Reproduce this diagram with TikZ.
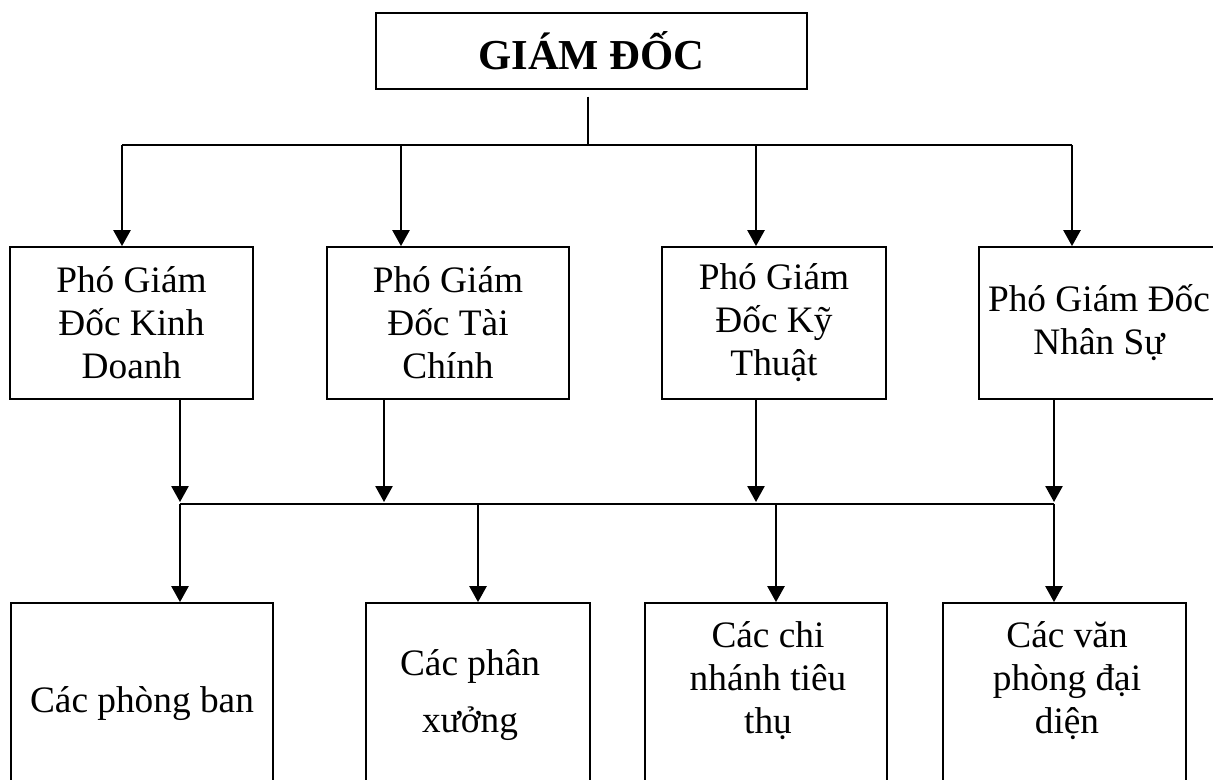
\documentclass[tikz,border=0pt]{standalone}
\usepackage{fontspec}
\setmainfont{Liberation Serif}
\usetikzlibrary{arrows.meta,positioning}

\begin{document}
\begin{tikzpicture}[x=0.75pt, y=-0.75pt, >={Triangle[length=12pt,width=13pt]},
  every node/.style={font=\fontsize{28}{32.25}\selectfont},
  box/.style={draw,line width=1.4pt,inner sep=0pt,align=center},
  pbox/.style={box,minimum height=114pt},
  cbox/.style={box,minimum height=150pt},
  txt/.style={inner sep=0pt,align=center},
  line/.style={line width=1.2pt}]
\useasboundingbox (0,0) rectangle (1213,780);
\clip (0,0) rectangle (1213,780);
% giam doc
\node[box,minimum width=323.25pt,minimum height=57pt,font=\fontsize{32}{36}\selectfont\bfseries] (gd) at (591.5,51) {GIÁM ĐỐC};
% pho giam doc
\node[pbox,minimum width=182pt] (pkd) at (131.5,323) {Phó Giám\\Đốc Kinh\\Doanh};
\node[pbox,minimum width=181.5pt] (ptc) at (448,323) {Phó Giám\\Đốc Tài\\Chính};
\node[pbox,minimum width=168pt] (pkt) at (774,323) {Phó Giám\\Đốc Kỹ\\Thuật};
\node[pbox,minimum width=180pt] (pns) at (1099,323) {Phó Giám Đốc\\Nhân Sự};
% cac bo phan
\node[cbox,minimum width=196.5pt] (cpb) at (142,703) {};
\node[cbox,minimum width=168pt] (cpx) at (478,703) {};
\node[cbox,minimum width=181.5pt] (ccn) at (766,703) {};
\node[cbox,minimum width=182.25pt] (cvp) at (1064.5,703) {};
\node[txt] (cpbt) at (142,704) {Các phòng ban};
\node[txt] (cpxt) at (470,695) {Các phân\\[10.5pt]xưởng};
\node[txt] (ccnt) at (768,681) {Các chi\\nhánh tiêu\\thụ};
\node[txt] (cvpt) at (1067,681) {Các văn\\phòng đại\\diện};
% duong noi
\coordinate (jt) at (588,145);
\foreach \nd/\x in {pkd/122,ptc/401,pkt/756,pns/1072} \coordinate (t-\nd) at (\x,145);
\foreach \nd/\x in {pkd/180,ptc/384,pkt/756,pns/1054} \coordinate (m-\nd) at (\x,504);
\foreach \nd/\x in {cpb/180,cpx/478,ccn/776,cvp/1054} \coordinate (b-\nd) at (\x,504);
\draw[line] ([yshift=-5pt]gd.south -| jt) -- (jt);
\draw[line] (t-pkd) -- (t-pns);
\foreach \nd in {pkd,ptc,pkt,pns} \draw[line,->] (t-\nd) -- (t-\nd |- \nd.north);
\foreach \nd in {pkd,ptc,pkt,pns} \draw[line,->,shorten >=1.5pt] (m-\nd |- \nd.south) -- (m-\nd);
\draw[line] (m-pkd) -- (m-pns);
\foreach \nd in {cpb,cpx,ccn,cvp} \draw[line,->] (b-\nd) -- (b-\nd |- \nd.north);
\end{tikzpicture}
\end{document}
